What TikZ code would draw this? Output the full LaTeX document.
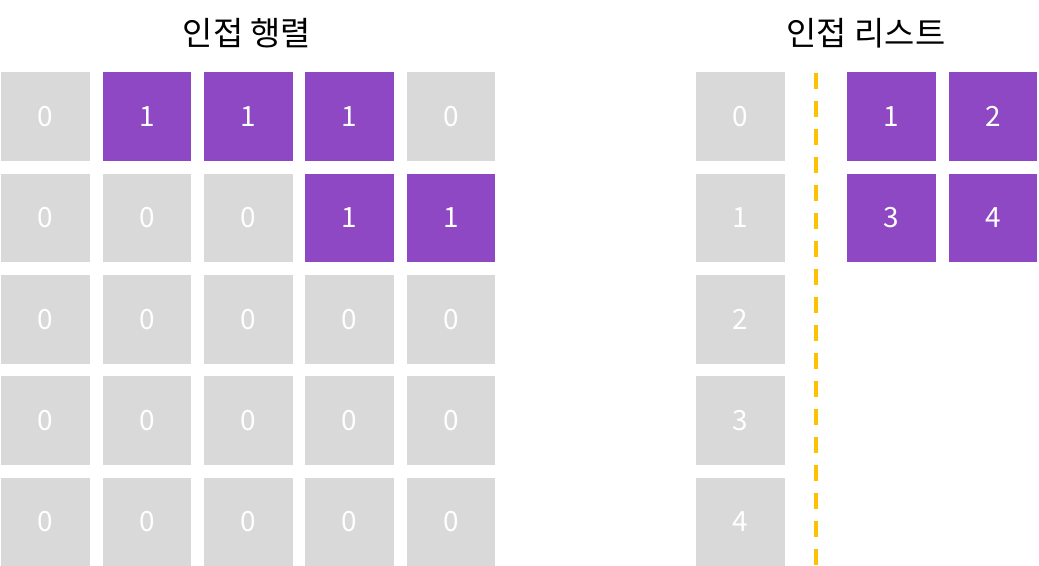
\documentclass[tikz,border=0pt]{standalone}
\usepackage{fontspec}
\setmainfont{Noto Sans CJK KR}
\usetikzlibrary{positioning}
\definecolor{cellgray}{HTML}{D9D9D9}
\definecolor{cellpurple}{HTML}{8E48C4}
\definecolor{sepyellow}{HTML}{FFC000}
\tikzset{
  cell/.style={rectangle, minimum width=88.5bp, minimum height=88.5bp, inner sep=0pt, text=white, font=\fontsize{28}{28}\selectfont},
  zerocell/.style={cell, fill=cellgray},
  onecell/.style={cell, fill=cellpurple},
  titletext/.style={font=\fontsize{33}{33}\selectfont}
}
\begin{document}
\begin{tikzpicture}[x=1bp, y=-1bp, node distance=12.5bp and 12.5bp]
    \useasboundingbox (0,0) rectangle (1039,566);
    % Titles
    \node[titletext] (mattitle) at (247,33) {인접 행렬};
    \node[titletext] (listtitle) at (866,33) {인접 리스트};

    % Adjacency matrix
    \node[zerocell, anchor=north west] (m00) at (1,72) {0};
    \node[onecell, right=of m00] (m01) {1};
    \node[onecell, right=of m01] (m02) {1};
    \node[onecell, right=of m02] (m03) {1};
    \node[zerocell, right=of m03] (m04) {0};

    \node[zerocell, below=of m00] (m10) {0};
    \node[zerocell, right=of m10] (m11) {0};
    \node[zerocell, right=of m11] (m12) {0};
    \node[onecell, right=of m12] (m13) {1};
    \node[onecell, right=of m13] (m14) {1};

    \node[zerocell, below=of m10] (m20) {0};
    \node[zerocell, right=of m20] (m21) {0};
    \node[zerocell, right=of m21] (m22) {0};
    \node[zerocell, right=of m22] (m23) {0};
    \node[zerocell, right=of m23] (m24) {0};

    \node[zerocell, below=of m20] (m30) {0};
    \node[zerocell, right=of m30] (m31) {0};
    \node[zerocell, right=of m31] (m32) {0};
    \node[zerocell, right=of m32] (m33) {0};
    \node[zerocell, right=of m33] (m34) {0};

    \node[zerocell, below=of m30] (m40) {0};
    \node[zerocell, right=of m40] (m41) {0};
    \node[zerocell, right=of m41] (m42) {0};
    \node[zerocell, right=of m42] (m43) {0};
    \node[zerocell, right=of m43] (m44) {0};

    % Adjacency list: vertices
    \node[zerocell, anchor=north west] (v0) at (696,72) {0};
    \node[zerocell, below=of v0] (v1) {1};
    \node[zerocell, below=of v1] (v2) {2};
    \node[zerocell, below=of v2] (v3) {3};
    \node[zerocell, below=of v3] (v4) {4};

    % Adjacency list: neighbours
    \node[onecell, anchor=north west] (n01) at (847,72) {1};
    \node[onecell, right=of n01] (n02) {2};
    \node[onecell, below=of n01] (n13) {3};
    \node[onecell, right=of n13] (n14) {4};

    % Separator
    \coordinate (septop) at (816,73);
    \coordinate (sepbot) at (816,566);
    \draw[sepyellow, line width=4bp, dash pattern=on 16bp off 12bp] (septop) -- (sepbot);
\end{tikzpicture}
\end{document}
